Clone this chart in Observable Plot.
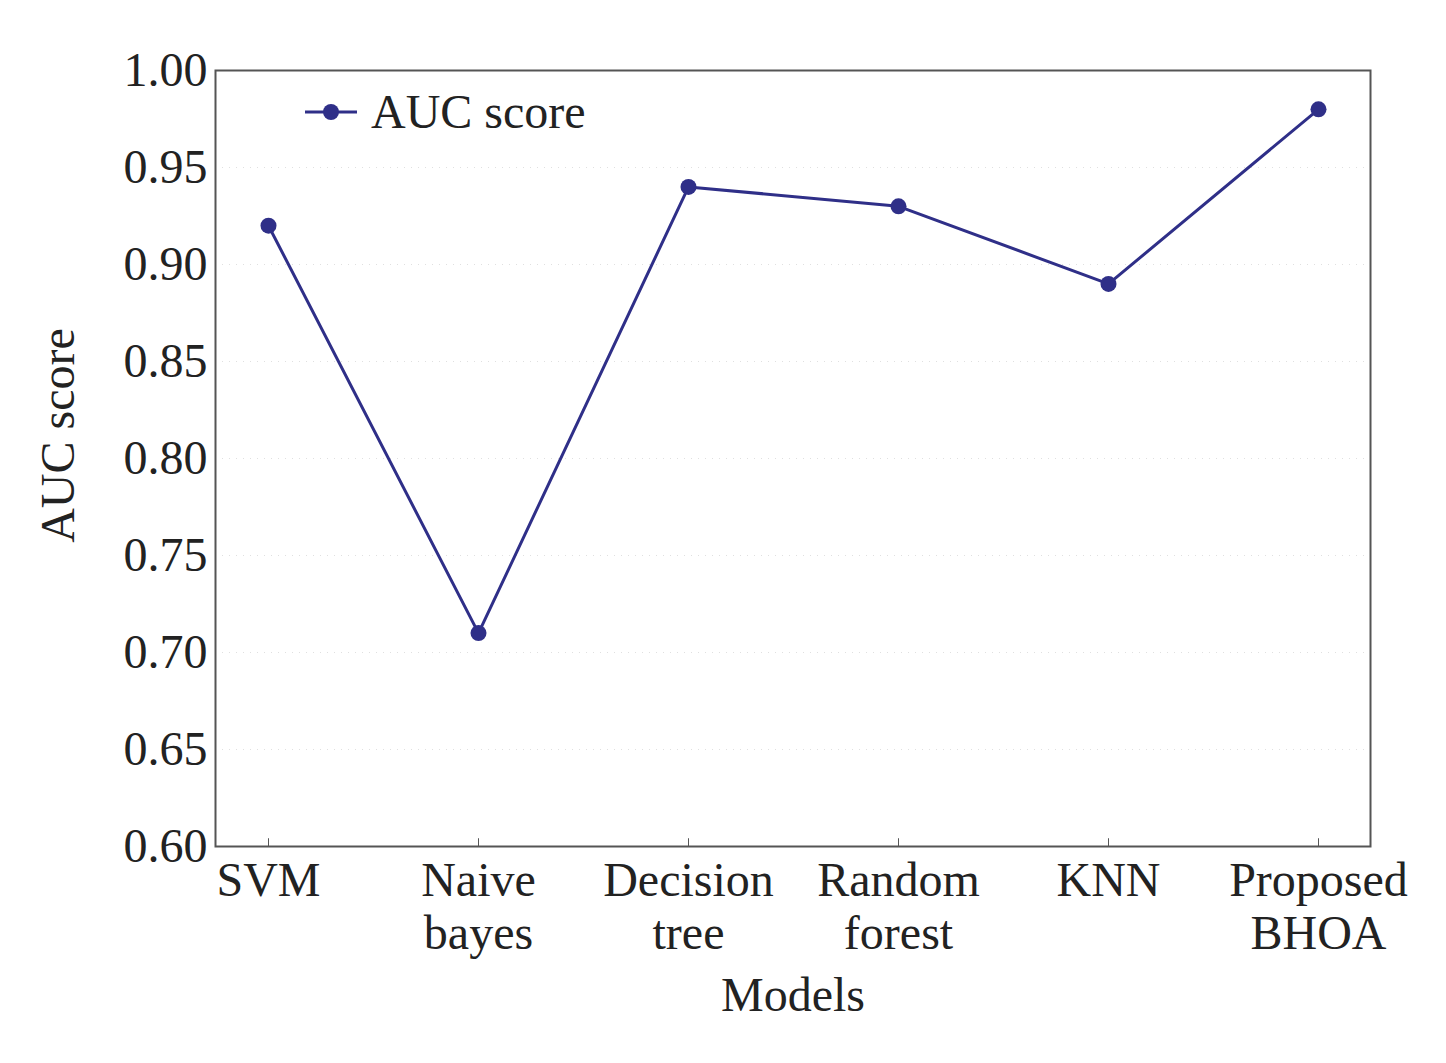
<!DOCTYPE html>
<html><head><meta charset="utf-8">
<script src="https://cdn.jsdelivr.net/npm/d3@7"></script>
<script src="https://cdn.jsdelivr.net/npm/@observablehq/plot@0.6"></script>
<style>
body{margin:0;background:#fff}
#wrap{position:relative;width:1446px;height:1063px}
#legend{position:absolute;left:303px;top:84px;font-family:"Liberation Serif",serif;font-size:48px;color:#222;display:flex;align-items:center}
</style></head><body>
<div id="wrap"><div id="legend"><svg width="58" height="20"><line x1="2" y1="10" x2="54" y2="10" stroke="#2f2f88" stroke-width="3"/><circle cx="28" cy="10" r="8" fill="#2f2f88"/></svg><span style="margin-left:10px">AUC score</span></div></div>
<script>
const models = ["SVM","Naive\nbayes","Decision\ntree","Random\nforest","KNN","Proposed\nBHOA"];
const auc = [0.92,0.71,0.94,0.93,0.89,0.98];
const yTicks = [0.60,0.65,0.70,0.75,0.80,0.85,0.90,0.95,1.00];
const data = models.map((m,i)=>({m,v:auc[i]}));
const color = "#2f2f88";
const chart = Plot.plot({
  width:1446, height:1063,
  marginLeft:215, marginRight:76, marginTop:70, marginBottom:217,
  style:{fontFamily:"Liberation Serif, serif", fontSize:"48px", color:"#222", background:"transparent"},
  x:{type:"point", domain:models, padding:0.24},
  y:{domain:[0.60,1.00]},
  marks:[
    Plot.gridY(yTicks,{stroke:"#ccc", strokeDasharray:"1,6", strokeOpacity:0.6}),
    Plot.frame({stroke:"#555", strokeWidth:2}),
    Plot.axisY(yTicks,{tickFormat:d=>d.toFixed(2), tickSize:0, tickPadding:8, fontSize:48, label:null}),
    Plot.ruleX(models,{x:d=>d, y1:0.60, y2:0.604, stroke:"#555"}),
    Plot.axisX({tickSize:0, tickPadding:12, fontSize:48, lineHeight:1.1, label:null, textAnchor:"middle"}),
    Plot.text(["AUC score"],{frameAnchor:"left", textAnchor:"middle", dx:-157, dy:-23, rotate:-90, fontSize:48, text:d=>d}),
    Plot.text(["Models"],{frameAnchor:"bottom", dy:164, fontSize:48, text:d=>d}),
    Plot.line(data,{x:"m", y:"v", stroke:color, strokeWidth:3}),
    Plot.dot(data,{x:"m", y:"v", r:8, fill:color})
  ]
});
document.getElementById("wrap").prepend(chart);
chart.style.position="absolute";chart.style.left="0";chart.style.top="0";
</script></body></html>
